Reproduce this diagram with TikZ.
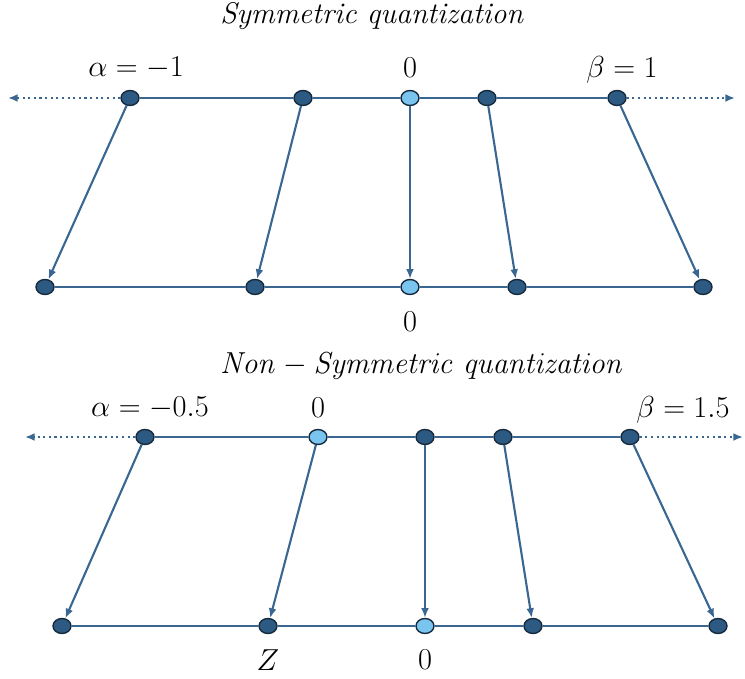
\documentclass[tikz,border=0pt]{standalone}
\usepackage{amsmath}
\usetikzlibrary{arrows.meta,shapes.geometric}

\definecolor{linecol}{RGB}{58,103,145}
\definecolor{darkdot}{RGB}{44,90,130}
\definecolor{lightdot}{RGB}{122,196,240}
\definecolor{rimcol}{RGB}{22,42,62}

\tikzset{
  pt/.style={ellipse,draw=rimcol,line width=0.8pt,fill=darkdot,
    minimum width=0.36cm,minimum height=0.3cm,inner sep=0pt},
  zpt/.style={pt,fill=lightdot},
  axis/.style={draw=linecol,line width=1.2pt},
  map/.style={draw=linecol,line width=1.2pt,-{Latex[length=5.5pt,width=4.5pt]}},
  ext/.style={draw=linecol,line width=1.2pt,dotted,-{Latex[length=5.5pt,width=4.5pt]}},
  lbl/.style={font=\fontsize{17}{20}\selectfont,inner sep=1pt}
}

\begin{document}
\begin{tikzpicture}[x=0.02cm,y=-0.02cm]
  \useasboundingbox (0,0) rectangle (745,679);

  % symmetric
  \node[lbl] (title1) at (372,16) {\textit{Symmetric quantization}};
  \node[pt]  (a1) at (130,98) {};
  \node[pt]  (a2) at (303,98) {};
  \node[zpt] (a3) at (410,98) {};
  \node[pt]  (a4) at (487,98) {};
  \node[pt]  (a5) at (617,98) {};
  \node[pt]  (b1) at (45,287) {};
  \node[pt]  (b2) at (255,287) {};
  \node[zpt] (b3) at (410,287) {};
  \node[pt]  (b4) at (517,287) {};
  \node[pt]  (b5) at (703,287) {};
  \coordinate (l1) at (8,98);
  \coordinate (r1) at (735,98);

  \draw[axis] (a1) -- (a2) -- (a3) -- (a4) -- (a5);
  \draw[axis] (b1) -- (b2) -- (b3) -- (b4) -- (b5);
  \draw[ext] (a1) -- (l1);
  \draw[ext] (a5) -- (r1);
  \draw[map] (a1) -- (b1);
  \draw[map] (a2) -- (b2);
  \draw[map] (a3) -- (b3);
  \draw[map] (a4) -- (b4);
  \draw[map] (a5) -- (b5);

  \node[lbl] (alpha1) at (136,68) {$\alpha=-1$};
  \node[lbl] (zero1) at (410,68) {$0$};
  \node[lbl] (beta1) at (622,70) {$\beta=1$};
  \node[lbl] (zero2) at (410,322) {$0$};

  % non-symmetric
  \node[lbl] (title2) at (422,366) {$\mathit{Non}-\mathit{Symmetric}\ \mathit{quantization}$};
  \node[pt]  (c1) at (145,437) {};
  \node[zpt] (c2) at (318,437) {};
  \node[pt]  (c3) at (425,437) {};
  \node[pt]  (c4) at (503,437) {};
  \node[pt]  (c5) at (630,437) {};
  \node[pt]  (d1) at (62,626) {};
  \node[pt]  (d2) at (268,626) {};
  \node[zpt] (d3) at (425,626) {};
  \node[pt]  (d4) at (533,626) {};
  \node[pt]  (d5) at (718,626) {};
  \coordinate (l2) at (25,437);
  \coordinate (r2) at (743,437);

  \draw[axis] (c1) -- (c2) -- (c3) -- (c4) -- (c5);
  \draw[axis] (d1) -- (d2) -- (d3) -- (d4) -- (d5);
  \draw[ext] (c1) -- (l2);
  \draw[ext] (c5) -- (r2);
  \draw[map] (c1) -- (d1);
  \draw[map] (c2) -- (d2);
  \draw[map] (c3) -- (d3);
  \draw[map] (c4) -- (d4);
  \draw[map] (c5) -- (d5);

  \node[lbl] (alpha2) at (150,408) {$\alpha=-0.5$};
  \node[lbl] (zero3) at (318,408) {$0$};
  \node[lbl] (beta2) at (683,410) {$\beta=1.5$};
  \node[lbl] (zlab) at (268,660) {$Z$};
  \node[lbl] (zero4) at (425,660) {$0$};
\end{tikzpicture}
\end{document}
